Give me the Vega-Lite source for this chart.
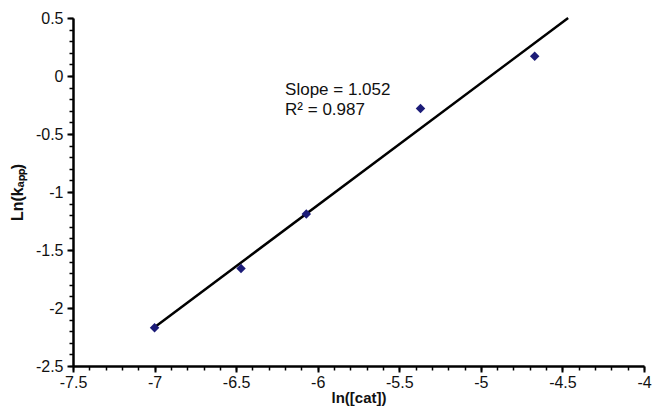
{
  "$schema": "https://vega.github.io/schema/vega-lite/v6.json",
  "autosize": "none",
  "width": 571,
  "height": 348,
  "padding": {"left": 73, "top": 18, "right": 10, "bottom": 42},
  "background": "white",
  "config": {
    "view": {"stroke": null},
    "font": "Liberation Sans",
    "axis": {"grid": false, "domainColor": "black", "tickColor": "black", "labelColor": "#111", "titleColor": "#111", "labelFont": "Liberation Sans", "titleFont": "Liberation Sans"}
  },
  "datasets": {
    "pts": [
      {"lncat": -7.0, "lnk": -2.17},
      {"lncat": -6.47, "lnk": -1.66},
      {"lncat": -6.07, "lnk": -1.19},
      {"lncat": -5.37, "lnk": -0.28},
      {"lncat": -4.67, "lnk": 0.17}
    ],
    "fit": [
      {"lncat": -7.0, "lnk": -2.166},
      {"lncat": -4.465, "lnk": 0.5}
    ],
    "labels": [
      {"lncat": -6.2, "lnk": -0.12, "label": "Slope = 1.052"},
      {"lncat": -6.2, "lnk": -0.29, "label": "R² = 0.987"}
    ]
  },
  "resolve": {"axis": {"x": "independent", "y": "independent"}},
  "layer": [
    {
      "data": {"name": "fit"},
      "mark": {"type": "line", "color": "black", "strokeWidth": 2.5},
      "encoding": {
        "x": {"field": "lncat", "type": "quantitative", "scale": {"domain": [-7.5, -4], "nice": false, "zero": false},
          "axis": {"orient": "bottom", "values": [-7.5,-7.4,-7.3,-7.2,-7.1,-7.0,-6.9,-6.8,-6.7,-6.6,-6.5,-6.4,-6.3,-6.2,-6.1,-6.0,-5.9,-5.8,-5.7,-5.6,-5.5,-5.4,-5.3,-5.2,-5.1,-5.0,-4.9,-4.8,-4.7,-4.6,-4.5,-4.4,-4.3,-4.2,-4.1,-4.0],
            "labels": false, "title": null, "domain": false, "tickSize": 4, "tickWidth": 1.5}},
        "y": {"field": "lnk", "type": "quantitative", "scale": {"domain": [-2.5, 0.5], "nice": false, "zero": false},
          "axis": {"orient": "left", "values": [-2.5,-2.4,-2.3,-2.2,-2.1,-2.0,-1.9,-1.8,-1.7,-1.6,-1.5,-1.4,-1.3,-1.2,-1.1,-1.0,-0.9,-0.8,-0.7,-0.6,-0.5,-0.4,-0.3,-0.2,-0.1,0,0.1,0.2,0.3,0.4,0.5],
            "labels": false, "title": null, "domain": false, "tickSize": 4, "tickWidth": 1.5}}
      }
    },
    {
      "data": {"name": "pts"},
      "mark": {"type": "point", "shape": "diamond", "filled": true, "color": "#1c1c78", "size": 90, "opacity": 1},
      "encoding": {
        "x": {"field": "lncat", "type": "quantitative",
          "axis": {"orient": "bottom", "values": [-7.5,-7,-6.5,-6,-5.5,-5,-4.5,-4], "labelExpr": "toString(datum.value)", "title": "ln([cat])", "tickSize": 6, "tickWidth": 2, "domainWidth": 2.5,
            "labelFontSize": 16, "labelPadding": 2, "titleFontSize": 15, "titleFontWeight": "bold", "titlePadding": 0, "labelFlush": false, "labelOverlap": false}},
        "y": {"field": "lnk", "type": "quantitative",
          "axis": {"orient": "left", "values": [-2.5,-2,-1.5,-1,-0.5,0,0.5], "labelExpr": "toString(datum.value)", "title": "Ln(kₐₚₚ)", "tickSize": 6, "tickWidth": 2, "domainWidth": 2.5,
            "labelFontSize": 16, "labelPadding": 4, "titleFontSize": 16, "titleFontWeight": "bold", "titlePadding": 10, "labelFlush": false, "labelOverlap": false}}
      }
    },
    {
      "data": {"name": "labels"},
      "mark": {"type": "text", "align": "left", "baseline": "middle", "fontSize": 17, "color": "#111", "font": "Liberation Sans"},
      "encoding": {
        "x": {"field": "lncat", "type": "quantitative", "axis": null},
        "y": {"field": "lnk", "type": "quantitative", "axis": null},
        "text": {"field": "label"}
      }
    }
  ]
}
